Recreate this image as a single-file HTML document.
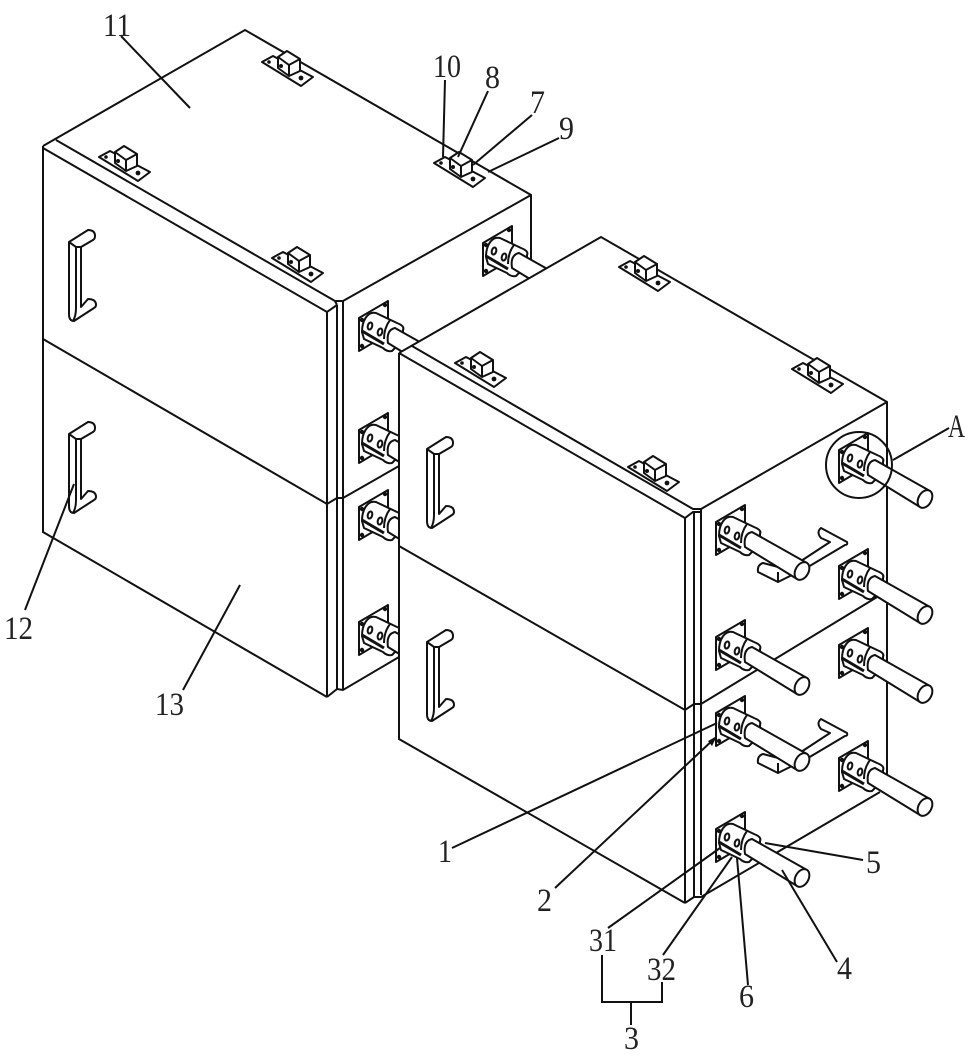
<!DOCTYPE html>
<html>
<head>
<meta charset="utf-8">
<style>
html,body{margin:0;padding:0;background:#fff;width:970px;height:1056px;overflow:hidden}
svg{display:block}
.l{fill:none;stroke:#111;stroke-width:2}
.w{fill:#fff;stroke:#111;stroke-width:2;stroke-linejoin:round}
.f{fill:#fff;stroke:none}
.t{font-family:"Liberation Serif",serif;font-size:33px;fill:#222}
</style>
</head>
<body>
<svg width="970" height="1056" viewBox="0 0 970 1056" xmlns="http://www.w3.org/2000/svg">
<defs>
  <g id="u">
    <polygon class="w" points="0,0 29,-17 29,16 0,33"/>
    <circle cx="3" cy="2" r="2.2" fill="#111"/><circle cx="26" cy="-13" r="2.2" fill="#111"/>
    <circle cx="3" cy="28" r="2.2" fill="#111"/><circle cx="26" cy="11" r="2.2" fill="#111"/>
    <path class="w" d="M3,14 C3,2 9,-7 17,-5 L38,5 Q46,8 44,12 L44,22 L33,33 Q28,34 24,30 L5,21 Z"/>
    <path class="l" d="M3,13 L25,26" style="stroke-width:3"/>
    <path class="l" d="M31,2 Q25,10 25,21"/>
    <path class="w" d="M36,10 L91,41 L81,57 L29,25 Q27,12 36,10 Z"/>
    <ellipse class="w" cx="86" cy="49" rx="6.5" ry="9.5" transform="rotate(30 86 49)"/>
    <ellipse class="l" cx="11" cy="8" rx="2.2" ry="3.6" transform="rotate(15 11 8)"/>
    <ellipse class="l" cx="21" cy="14" rx="2.2" ry="3.6" transform="rotate(15 21 14)"/>
  </g>
  <g id="h">
    <path class="w" d="M85,39 L114,20 L105,16 Q100,10 105,6 L131,20 Q132,23 129,23 L92,45 Z"/>
    <path class="w" d="M47,41 Q41,43 42,50 L62,60 L76,53 L66,46 Z"/>
    <path class="l" d="M62,50 V60"/>
  </g>
  <g id="c">
    <polygon class="w" points="-1,0 10,-6 50,15 38,24"/>
    <circle cx="6" cy="0" r="1.8" fill="#111"/><circle cx="38" cy="16" r="2.4" fill="#111"/>
    <polygon class="w" points="15,-5 24,-11 37,-3 37,9 26,14 15,6"/>
    <path class="l" d="M15,-5 L26,3 L37,-3 M26,3 V14"/>
    <circle cx="18" cy="4" r="2" fill="#111"/>
  </g>
  <g id="g">
    <path class="w" d="M0,0 L19,-12 Q26,-12 26,-6 Q26,-3 24,-2 L12,5 V65 L19,57 Q27,57 27,63 Q27,65 25,66 L5,79 Q0,79 0,72 Z"/>
    <path class="l" d="M0,0 L7,5 H12 M7,5 V66 Q7,74 4,79"/>
  </g>
</defs>

<!-- left box -->
<g>
  <polygon class="f" points="43,146 245,30 531,195 531,470 399,657 343,690 327,697 43,532"/>
  <path class="l" d="M43,146 L245,30 L531,195 V275 M43,146 V532 L327,697"/>
  <path class="l" d="M56,140 L335,301 H343 M43,148 L327,312 L337,305 M327,312 V697 M337,305 V690 M343,301 V690 M335,301 L337,305"/>
  <path class="l" d="M343,301 L531,195 M43,339 L327,504 L337,498 H343 L399,466 M327,697 L337,689 L343,690 L399,657"/>
  <use href="#c" x="100" y="157"/><use href="#c" x="263" y="62"/><use href="#c" x="273" y="258"/><use href="#c" x="435" y="163"/>
  <use href="#g" x="69" y="242"/><use href="#g" x="69" y="434"/>
  <use href="#u" x="483" y="243"/><use href="#u" x="359" y="318"/><use href="#u" x="359" y="430"/><use href="#u" x="359" y="507"/><use href="#u" x="359" y="622"/>
</g>

<!-- right box -->
<g>
  <polygon class="f" points="399,353 601,237 887,402 887,786 701,895 685,903 399,739"/>
  <path class="l" d="M399,353 L601,237 L887,402 V790 M399,353 V739 L685,903"/>
  <path class="l" d="M412,346 L693,509 H701 M399,353 L685,518 L693,512 H701 M685,518 V903 M694,512 V897 M701,509 V895"/>
  <path class="l" d="M701,509 L887,402 M399,546 L685,710 L694,704 H701 L887,591 M685,903 L694,897 H701 L880,792"/>
  <use href="#c" x="456" y="363"/><use href="#c" x="620" y="267"/><use href="#c" x="793" y="369"/><use href="#c" x="629" y="467"/>
  <use href="#g" x="427" y="449"/><use href="#g" x="427" y="642"/>
  <use href="#h" x="716" y="522"/><use href="#h" x="716" y="713"/>
  <use href="#u" x="839" y="450"/><use href="#u" x="716" y="522"/><use href="#u" x="839" y="566"/><use href="#u" x="716" y="637"/><use href="#u" x="839" y="645"/><use href="#u" x="716" y="713"/><use href="#u" x="839" y="758"/><use href="#u" x="716" y="829"/>
</g>

<!-- detail circle & leaders -->
<circle class="l" cx="859" cy="465" r="33"/>
<g class="l">
  <path d="M121,36 L190,108"/>
  <path d="M445,80 L443,157"/>
  <path d="M488,91 L458,157"/>
  <path d="M532,115 L473,165"/>
  <path d="M559,138 L488,172"/>
  <path d="M893,460 L949,428"/>
  <path d="M25,610 L74,484"/>
  <path d="M183,690 L240,585"/>
  <path d="M452,848 L717,723"/>
  <path d="M555,888 L715,738"/>
  <path d="M863,860 L765,843"/>
  <path d="M608,928 L720,848"/>
  <path d="M663,955 L732,857"/>
  <path d="M748,985 L737,858"/>
  <path d="M837,962 L782,870"/>
  <path d="M602,955 V1002 H662 V982 M631,1002 V1025"/>
</g>
<polygon points="717,736 708,741 712,746" fill="#111"/>

<!-- labels -->
<g class="t">
  <text x="103" y="36" textLength="28" lengthAdjust="spacingAndGlyphs">11</text>
  <text x="433" y="77" textLength="28" lengthAdjust="spacingAndGlyphs">10</text>
  <text x="485" y="88" textLength="15" lengthAdjust="spacingAndGlyphs">8</text>
  <text x="530" y="113" textLength="15" lengthAdjust="spacingAndGlyphs">7</text>
  <text x="559" y="139" textLength="15" lengthAdjust="spacingAndGlyphs">9</text>
  <text x="948" y="437" textLength="17" lengthAdjust="spacingAndGlyphs">A</text>
  <text x="4" y="639" textLength="29" lengthAdjust="spacingAndGlyphs">12</text>
  <text x="155" y="715" textLength="29" lengthAdjust="spacingAndGlyphs">13</text>
  <text x="438" y="862" textLength="14" lengthAdjust="spacingAndGlyphs">1</text>
  <text x="537" y="911" textLength="15" lengthAdjust="spacingAndGlyphs">2</text>
  <text x="866" y="873" textLength="15" lengthAdjust="spacingAndGlyphs">5</text>
  <text x="589" y="951" textLength="28" lengthAdjust="spacingAndGlyphs">31</text>
  <text x="647" y="980" textLength="29" lengthAdjust="spacingAndGlyphs">32</text>
  <text x="739" y="1007" textLength="15" lengthAdjust="spacingAndGlyphs">6</text>
  <text x="837" y="979" textLength="15" lengthAdjust="spacingAndGlyphs">4</text>
  <text x="624" y="1049" textLength="15" lengthAdjust="spacingAndGlyphs">3</text>
</g>
</svg>
</body>
</html>
